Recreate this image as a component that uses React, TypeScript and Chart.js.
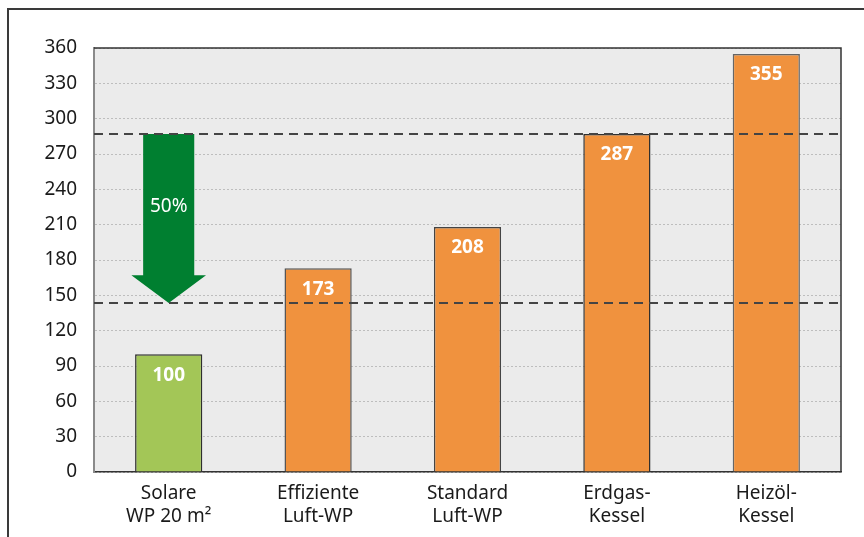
import React, { useEffect, useRef } from "react";
import { Chart, registerables } from "chart.js";

Chart.register(...registerables);

const categories: string[][] = [
  ["Solare", "WP 20 m²"],
  ["Effiziente", "Luft-WP"],
  ["Standard", "Luft-WP"],
  ["Erdgas-", "Kessel"],
  ["Heizöl-", "Kessel"],
];
const values = [100, 173, 208, 287, 355];
const barColors = ["#A3C657", "#F0923E", "#F0923E", "#F0923E", "#F0923E"];
const barBorders = ["#2f2f2f", "#555555", "#444444", "#2f2f2f", "#666666"];
const refLines = [287, 143.5];
const arrowFrom = 287;
const arrowHeadStart = 167;
const arrowTo = 143.5;
const arrowLabel = "50%";
const yMax = 360;
const yStep = 30;

const FONT = "'Noto Sans', 'Liberation Sans', sans-serif";

const decorPlugin = {
  id: "decor",
  beforeDraw(chart: any) {
    const { ctx, chartArea } = chart;
    ctx.save();
    ctx.fillStyle = "#EBEBEB";
    ctx.fillRect(chartArea.left, chartArea.top, chartArea.right - chartArea.left, chartArea.bottom - chartArea.top);
    ctx.restore();
  },
  afterDatasetsDraw(chart: any) {
    const { ctx, chartArea, scales } = chart;
    const y = scales.y;
    const meta = chart.getDatasetMeta(0);
    // arrow
    const bar0: any = meta.data[0];
    const cx = bar0.x;
    const w = bar0.width;
    const yTop = y.getPixelForValue(arrowFrom);
    const yHead = y.getPixelForValue(arrowHeadStart);
    const yTip = y.getPixelForValue(arrowTo);
    const sh = w * 0.38;
    const hh = w * 0.555;
    ctx.save();
    ctx.fillStyle = "#007F30";
    ctx.beginPath();
    ctx.moveTo(cx - sh, yTop);
    ctx.lineTo(cx + sh, yTop);
    ctx.lineTo(cx + sh, yHead);
    ctx.lineTo(cx + hh, yHead);
    ctx.lineTo(cx, yTip);
    ctx.lineTo(cx - hh, yHead);
    ctx.lineTo(cx - sh, yHead);
    ctx.closePath();
    ctx.fill();
    ctx.fillStyle = "#ffffff";
    ctx.font = `19px ${FONT}`;
    ctx.textAlign = "center";
    ctx.textBaseline = "middle";
    ctx.fillText(arrowLabel, cx, (yTop + yHead) / 2 + 2);
    // bar labels
    ctx.font = `bold 19px ${FONT}`;
    meta.data.forEach((b: any, i: number) => {
      ctx.fillText(String(values[i]), b.x, b.y + 21);
    });
    // dashed reference lines
    ctx.strokeStyle = "#444444";
    ctx.lineWidth = 2;
    ctx.setLineDash([9, 6]);
    refLines.forEach((v) => {
      const py = Math.round(y.getPixelForValue(v));
      ctx.beginPath();
      ctx.moveTo(chartArea.left, py);
      ctx.lineTo(chartArea.right, py);
      ctx.stroke();
    });
    ctx.setLineDash([]);
    // top and right border
    ctx.strokeStyle = "#333333";
    ctx.lineWidth = 1.5;
    ctx.beginPath();
    ctx.moveTo(chartArea.left, chartArea.top);
    ctx.lineTo(chartArea.right, chartArea.top);
    ctx.lineTo(chartArea.right, chartArea.bottom);
    ctx.stroke();
    ctx.restore();
  },
};

export default function App() {
  const ref = useRef<HTMLCanvasElement>(null);
  useEffect(() => {
    if (!ref.current) return;
    const chart = new Chart(ref.current, {
      type: "bar",
      data: {
        labels: categories,
        datasets: [
          {
            data: values,
            backgroundColor: barColors,
            borderColor: barBorders,
            borderWidth: 1.5,
            categoryPercentage: 1,
            barPercentage: 0.45,
          },
        ],
      },
      options: {
        responsive: false,
        animation: false,
        layout: { padding: { left: 0, top: 48, right: 23, bottom: 0 } },
        plugins: { legend: { display: false }, tooltip: { enabled: false } },
        scales: {
          x: {
            grid: { display: false, drawTicks: false },
            border: { color: "#333333", width: 1.5 },
            ticks: { color: "#1a1a1a", font: { family: FONT, size: 19, lineHeight: 1.2 }, padding: 10 },
            afterFit: (s: any) => {
              s.height = 65;
            },
          },
          y: {
            min: 0,
            max: yMax,
            grid: {
              color: "#BDBDBD",
              lineWidth: 1,
              drawTicks: false,
            },
            border: { color: "#8a8a8a", width: 2, dash: [2, 2] } as any,
            ticks: {
              stepSize: yStep,
              color: "#1a1a1a",
              font: { family: FONT, size: 19 },
              padding: 17,
            },
            afterFit: (s: any) => {
              s.width = 94;
            },
          },
        },
      },
      plugins: [decorPlugin],
    });
    return () => chart.destroy();
  }, []);
  return (
    <div style={{ position: "fixed", left: 0, top: 0, width: 864, height: 537, overflow: "hidden", background: "#fff" }}>
      <div
        style={{
          position: "absolute",
          left: 7,
          top: 8,
          width: 1000,
          height: 1000,
          border: "2px solid #3a3a3a",
        }}
      />
      <canvas ref={ref} width={864} height={537} style={{ position: "absolute", left: 0, top: 0 }} />
    </div>
  );
}
